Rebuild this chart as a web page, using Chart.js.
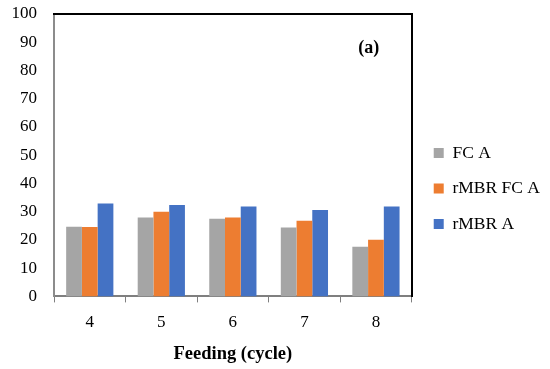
<!DOCTYPE html>
<html>
<head>
    <title>Feeding cycle</title>
    <script src="https://cdn.jsdelivr.net/npm/chart.js"></script>
    <style>
        html, body { margin: 0; padding: 0; background: #fff; }
        #wrap { width: 550px; height: 369px; }
    </style>
</head>
<body>
    <div id="wrap">
        <canvas id="feedChart"></canvas>
    </div>

    <script>
        const cycles = ['4', '5', '6', '7', '8'];
        const fcA = [24.7, 27.9, 27.5, 24.4, 17.6];
        const rmbrFcA = [24.6, 30.0, 27.9, 26.8, 20.1];
        const rmbrA = [32.9, 32.4, 31.8, 30.6, 31.8];
        const yTicks = [0, 10, 20, 30, 40, 50, 60, 70, 80, 90, 100];

        const serif = "'Liberation Serif', 'Times New Roman', serif";

        // "(a)" panel mark inside the plot box
        const panelLabel = {
            id: 'panelLabel',
            afterDraw(chart) {
                const ctx = chart.ctx, a = chart.chartArea;
                ctx.save();
                ctx.font = 'bold 18px ' + serif;
                ctx.fillStyle = '#000';
                ctx.textAlign = 'center';
                ctx.textBaseline = 'middle';
                ctx.fillText('(a)', a.right - 43, a.top + 34);
                ctx.restore();
            }
        };

        new Chart(document.getElementById('feedChart'), {
            type: 'bar',
            data: {
                labels: cycles,
                datasets: [{
                    label: 'FC A',
                    data: fcA,
                    backgroundColor: '#A5A5A5'
                }, {
                    label: 'rMBR FC A',
                    data: rmbrFcA,
                    backgroundColor: '#ED7D31'
                }, {
                    label: 'rMBR A',
                    data: rmbrA,
                    backgroundColor: '#4472C4'
                }]
            },
            plugins: [panelLabel],
            options: {
                responsive: true,
                maintainAspectRatio: false,
                animation: false,
                datasets: {
                    bar: { barPercentage: 1, categoryPercentage: 0.66 }
                },
                layout: {
                    padding: { top: 0, left: 0, right: 0, bottom: 4 }
                },
                plugins: {
                    tooltip: { enabled: false },
                    legend: {
                        position: 'right',
                        maxWidth: 200,
                        // empty title only pushes the centred items down a little
                        title: {
                            display: true,
                            text: ' ',
                            padding: 3,
                            font: { size: 5 }
                        },
                        labels: {
                            boxWidth: 10,
                            boxHeight: 10,
                            padding: 18,
                            color: '#000',
                            font: { family: serif, size: 17.5 }
                        }
                    }
                },
                scales: {
                    x: {
                        grid: {
                            display: true,
                            drawOnChartArea: false,
                            tickLength: 6,
                            color: '#7f7f7f'
                        },
                        border: { color: '#7f7f7f', width: 2 },
                        ticks: {
                            color: '#000',
                            padding: 10,
                            font: { family: serif, size: 17 }
                        },
                        title: {
                            display: true,
                            text: 'Feeding (cycle)',
                            color: '#000',
                            padding: { top: 0, bottom: 0 },
                            font: { family: serif, size: 18.5, weight: 'bold' }
                        }
                    },
                    y: {
                        min: 0,
                        max: 100,
                        afterBuildTicks: axis => { axis.ticks = yTicks.map(v => ({ value: v })); },
                        afterFit: axis => {
                            axis.width = 54;
                            axis.paddingTop = 14;
                            axis.paddingBottom = 0;
                        },
                        grid: { display: false, drawTicks: false },
                        border: { color: '#8c8c8c', width: 2 },
                        ticks: {
                            color: '#000',
                            padding: 17,
                            font: { family: serif, size: 17 }
                        }
                    },
                    xTop: {
                        position: 'top',
                        grid: { display: false, drawTicks: false },
                        ticks: { display: false },
                        border: { color: '#000', width: 2 }
                    },
                    yRight: {
                        position: 'right',
                        grid: { display: false, tickLength: 4 },
                        ticks: { display: false },
                        border: { color: '#000', width: 2 }
                    }
                }
            }
        });
    </script>
</body>
</html>
